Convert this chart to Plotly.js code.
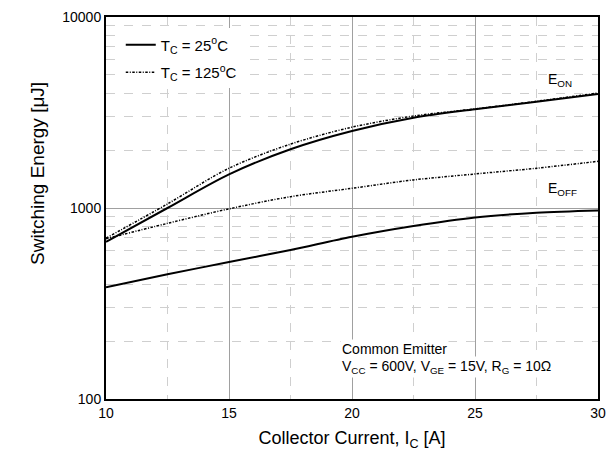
<!DOCTYPE html>
<html>
<head>
<meta charset="utf-8">
<script src="https://cdn.plot.ly/plotly-3.0.1.min.js"></script>
<style>html,body{margin:0;padding:0;background:#fff;}#chart{width:613px;height:460px;}</style>
</head>
<body>
<div id="chart"></div>
<script>
// Collector current [A]
const current = [10, 12.5, 15, 17.5, 20, 22.5, 25, 27.5, 30];
// Switching energy [uJ]
const eon25  = [665, 1000, 1500, 2030, 2530, 2970, 3290, 3600, 3950];
const eon125 = [695, 1050, 1615, 2160, 2650, 3030, 3300, 3620, 4000];
const eoff25 = [385, 450, 521, 603, 707, 805, 893, 944, 970];
const eoff125 = [690, 831, 990, 1146, 1268, 1403, 1507, 1615, 1756];
const legendNames = ["T<sub>C</sub> = 25<sup>o</sup>C", "T<sub>C</sub> = 125<sup>o</sup>C"];
const yTickVals = [100, 1000, 10000];
const yTickText = ["100", "1000", "10000"];
const xTickVals = [10, 15, 20, 25, 30];

const solid = {color: "#000", width: 2, shape: "spline", smoothing: 0.9};
const dotted = {color: "#000", width: 1.5, dash: "2.5px,1.5px,1px,1.5px", shape: "spline", smoothing: 0.9};

const traces = [
  {x: current, y: eon25, mode: "lines", line: solid, name: legendNames[0], legendgroup: "a", showlegend: true},
  {x: current, y: eon125, mode: "lines", line: dotted, name: legendNames[1], legendgroup: "b", showlegend: true},
  {x: current, y: eoff25, mode: "lines", line: solid, legendgroup: "a", showlegend: false},
  {x: current, y: eoff125, mode: "lines", line: dotted, legendgroup: "b", showlegend: false}
];

const font = {family: "Liberation Sans, Arial, sans-serif", color: "#000"};
const f = s => Object.assign({size: s}, font);

const layout = {
  width: 613, height: 460,
  margin: {l: 106, r: 15, t: 17, b: 61},
  paper_bgcolor: "#fff", plot_bgcolor: "#fff",
  font: f(14),
  showlegend: true,
  legend: {x: 0.03, y: 0.97, xanchor: "left", yanchor: "top", bgcolor: "#fff",
           borderwidth: 0, font: f(15), traceorder: "grouped", tracegroupgap: 5},
  xaxis: {
    range: [10, 30], tickvals: xTickVals,
    showline: true, linecolor: "#000", linewidth: 2, mirror: true,
    showgrid: true, gridcolor: "#a0a0a0", gridwidth: 1,
    zeroline: false, ticks: "",
    tickfont: f(14),
    minor: {dtick: 2.5, tick0: 10, showgrid: true, gridcolor: "#cfcfcf", griddash: "dash", gridwidth: 1},
    title: {text: "Collector Current, I<sub>C</sub> [A]", font: f(18), standoff: 12}
  },
  yaxis: {
    type: "log", range: [2, 4], tickvals: yTickVals, ticktext: yTickText,
    showline: true, linecolor: "#000", linewidth: 2, mirror: true,
    showgrid: true, gridcolor: "#a0a0a0", gridwidth: 1,
    zeroline: false, ticks: "",
    tickfont: f(14),
    minor: {dtick: "D1", showgrid: true, gridcolor: "#cfcfcf", griddash: "dash", gridwidth: 1}
  },
  annotations: [
    {x: -0.165, y: 0.59, xref: "paper", yref: "paper", text: "Switching Energy [\u03bcJ]", textangle: -90,
     showarrow: false, yanchor: "middle", font: f(19)},
    {x: 27.9, y: Math.log10(4700), xref: "x", yref: "y", text: "E<sub>ON</sub>", showarrow: false,
     xanchor: "left", yanchor: "middle", font: f(14)},
    {x: 27.9, y: Math.log10(1260), xref: "x", yref: "y", text: "E<sub>OFF</sub>", showarrow: false,
     xanchor: "left", yanchor: "middle", font: f(14)},
    {x: 0.475, y: 0.131, xref: "paper", yref: "paper", text: "Common Emitter", showarrow: false,
     xanchor: "left", yanchor: "middle", bgcolor: "#fff", font: f(14)},
    {x: 0.475, y: 0.084, xref: "paper", yref: "paper",
     text: "V<sub>CC</sub> = 600V, V<sub>GE</sub> = 15V, R<sub>G</sub> = 10\u03a9", showarrow: false,
     xanchor: "left", yanchor: "middle", bgcolor: "#fff", font: f(14)}
  ]
};

Plotly.newPlot("chart", traces, layout, {displayModeBar: false, staticPlot: true});
</script>
</body>
</html>
